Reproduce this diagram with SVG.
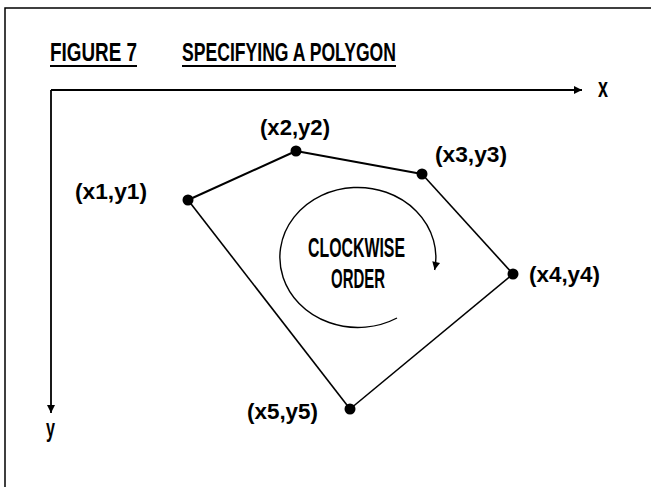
<svg xmlns="http://www.w3.org/2000/svg" width="651" height="487" viewBox="0 0 651 487">
<defs>
<style>
text{font-family:"Liberation Sans","DejaVu Sans",sans-serif;font-weight:bold;fill:#000}
.lbl{font-size:22px}
.ttl{font-size:25px}
.mid{font-size:28px}
.edge{stroke:#000;stroke-width:1.6;fill:none}
.ax{stroke:#000;stroke-width:1.8;fill:none}
.dot{fill:#000}
</style>
<marker id="ah" viewBox="0 0 10 10" refX="10" refY="5" markerWidth="10" markerHeight="8" markerUnits="userSpaceOnUse" orient="auto">
<path d="M0,0 L10,5 L0,10 Z" fill="#000"/>
</marker>
</defs>
<rect width="651" height="487" fill="#fff"/>
<g id="frame">
<path d="M5,487 L5,8 L651,8" stroke="#000" stroke-width="1.5" fill="none"/>
</g>
<g id="title">
<text class="ttl" x="50" y="61" textLength="87" lengthAdjust="spacingAndGlyphs">FIGURE 7</text>
<text class="ttl" x="182" y="61" textLength="214" lengthAdjust="spacingAndGlyphs">SPECIFYING A POLYGON</text>
<line x1="50" y1="66" x2="137" y2="66" stroke="#000" stroke-width="2"/>
<line x1="182" y1="66" x2="396" y2="66" stroke="#000" stroke-width="2"/>
</g>
<g id="axes">
<path class="ax" d="M51,90 L582,90" marker-end="url(#ah)"/>
<path class="ax" d="M51,90 L51,413" marker-end="url(#ah)"/>
<text x="598" y="97" style="font-size:27px" textLength="10" lengthAdjust="spacingAndGlyphs">x</text>
<text x="46" y="437" style="font-size:26px" textLength="9" lengthAdjust="spacingAndGlyphs">y</text>
</g>
<g id="connectors">
<line class="edge" x1="188" y1="200" x2="296" y2="151" style="stroke-width:2"/>
<line class="edge" x1="296" y1="151" x2="422" y2="174" style="stroke-width:2"/>
<line class="edge" x1="422" y1="174" x2="513" y2="274"/>
<line class="edge" x1="513" y1="274" x2="350" y2="409"/>
<line class="edge" x1="350" y1="409" x2="188" y2="200"/>
</g>
<g id="p1"><circle class="dot" cx="188" cy="200" r="5.5"/><text class="lbl" x="75" y="199" textLength="72" lengthAdjust="spacingAndGlyphs">(x1,y1)</text></g>
<g id="p2"><circle class="dot" cx="296" cy="151" r="5.5"/><text class="lbl" x="260" y="135" textLength="70" lengthAdjust="spacingAndGlyphs">(x2,y2)</text></g>
<g id="p3"><circle class="dot" cx="422" cy="174" r="5.5"/><text class="lbl" x="435" y="162" textLength="72" lengthAdjust="spacingAndGlyphs">(x3,y3)</text></g>
<g id="p4"><circle class="dot" cx="513" cy="274" r="5.5"/><text class="lbl" x="529" y="282" textLength="71" lengthAdjust="spacingAndGlyphs">(x4,y4)</text></g>
<g id="p5"><circle class="dot" cx="350" cy="409" r="5.5"/><text class="lbl" x="247" y="419" textLength="71" lengthAdjust="spacingAndGlyphs">(x5,y5)</text></g>
<g id="clockwise">
<path class="edge" d="M397,318 A78,70 0 1 1 434.6,270" style="stroke-width:1.4" marker-end="url(#ah)"/>
<text class="mid" x="308" y="257" textLength="97" lengthAdjust="spacingAndGlyphs">CLOCKWISE</text>
<text class="mid" x="331" y="288" textLength="54" lengthAdjust="spacingAndGlyphs">ORDER</text>
</g>
</svg>
